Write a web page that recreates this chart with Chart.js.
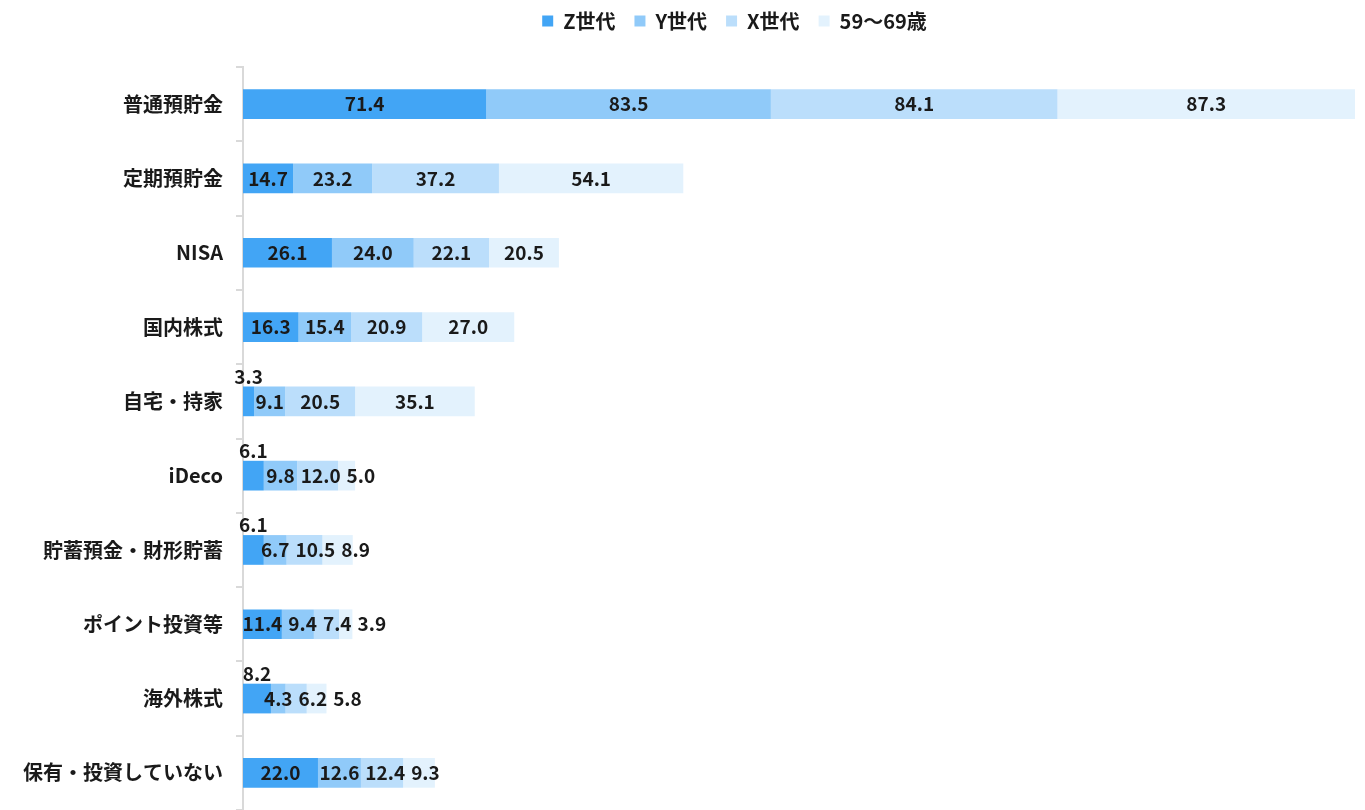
<!DOCTYPE html>
<html lang="ja">
<head>
<meta charset="UTF-8">
<title>保有・投資している金融資産</title>
<script src="https://cdn.jsdelivr.net/npm/chart.js@4.4.0/dist/chart.umd.min.js"></script>
<style>
  html, body { margin: 0; padding: 0; background: #fff; }
  .wrap { width: 1365px; height: 810px; position: relative; }
</style>
</head>
<body>
<div class="wrap"><canvas id="chart"></canvas></div>
<script>
// categories and series values (%)
const categories = ['普通預貯金', '定期預貯金', 'NISA', '国内株式', '自宅・持家', 'iDeco',
  '貯蓄預金・財形貯蓄', 'ポイント投資等', '海外株式', '保有・投資していない'];
const seriesNames = ['Z世代', 'Y世代', 'X世代', '59～69歳'];
const genZ   = [71.4, 14.7, 26.1, 16.3, 3.3, 6.1, 6.1, 11.4, 8.2, 22.0];
const genY   = [83.5, 23.2, 24.0, 15.4, 9.1, 9.8, 6.7, 9.4, 4.3, 12.6];
const genX   = [84.1, 37.2, 22.1, 20.9, 20.5, 12.0, 10.5, 7.4, 6.2, 12.4];
const senior = [87.3, 54.1, 20.5, 27.0, 35.1, 5.0, 8.9, 3.9, 5.8, 9.3];

const colors = ['#42a5f5', '#90caf9', '#bbdefb', '#e3f2fd'];
const FONT = '"Noto Sans CJK JP", "Noto Sans", sans-serif';

const allSeries = [genZ, genY, genX, senior];
const totals = categories.map((c, i) => allSeries.reduce((s, arr) => s + arr[i], 0));
const xMax = Math.max(...totals);

// value labels: centred in each segment, pushed right if they collide,
// first-series labels on very thin segments go above the bar
const valueLabels = {
  id: 'valueLabels',
  afterDatasetsDraw(chart) {
    const ctx = chart.ctx;
    ctx.save();
    ctx.font = 'bold 19px ' + FONT;
    ctx.fillStyle = '#1a1a1a';
    ctx.textAlign = 'center';
    ctx.textBaseline = 'middle';
    categories.forEach((cat, i) => {
      let prevRight = -Infinity;
      chart.data.datasets.forEach((ds, d) => {
        const bar = chart.getDatasetMeta(d).data[i];
        const txt = ds.data[i].toFixed(1);
        const w = ctx.measureText(txt).width;
        const left = Math.min(bar.base, bar.x);
        const segW = Math.abs(bar.x - bar.base);
        let cx = left + segW / 2;
        let cy = bar.y;
        if (d === 0 && segW < 32) {
          cy = bar.y - bar.height / 2 - 10;
          ctx.fillText(txt, cx, cy);
          return;
        }
        if (cx - w / 2 < prevRight + 6) cx = prevRight + 6 + w / 2;
        ctx.fillText(txt, cx, cy);
        prevRight = cx + w / 2;
      });
    });
    ctx.restore();
  }
};

// extra space under the legend, and nudge it a bit to the right
const legendTweak = {
  id: 'legendTweak',
  beforeInit(chart) {
    const fit = chart.legend.fit;
    chart.legend.fit = function () {
      fit.bind(chart.legend)();
      this.height += 26;
    };
  },
  afterLayout(chart) {
    chart.legend.left += 104;
  }
};

new Chart(document.getElementById('chart'), {
  type: 'bar',
  data: {
    labels: categories,
    datasets: seriesNames.map((name, k) => ({
      label: name,
      data: allSeries[k],
      backgroundColor: colors[k],
      borderWidth: 0,
      barPercentage: 0.8,
      categoryPercentage: 0.5
    }))
  },
  options: {
    indexAxis: 'y',
    responsive: true,
    maintainAspectRatio: false,
    animation: false,
    layout: { padding: { top: -8, right: 10, bottom: -4, left: 10 } },
    plugins: {
      legend: {
        position: 'top',
        labels: {
          boxWidth: 11,
          boxHeight: 11,
          padding: 19,
          color: '#1a1a1a',
          font: { family: FONT, size: 20, weight: 'bold' }
        }
      },
      tooltip: { enabled: false }
    },
    scales: {
      x: {
        stacked: true,
        display: false,
        min: 0,
        max: xMax
      },
      y: {
        stacked: true,
        afterFit(scale) {
          scale.paddingTop = 0;
          scale.paddingBottom = 0;
        },
        border: { display: true, color: '#d9d9d9', width: 2 },
        grid: {
          display: true,
          drawOnChartArea: false,
          drawTicks: true,
          tickLength: 7,
          color: '#d9d9d9',
          lineWidth: 2
        },
        ticks: {
          color: '#1a1a1a',
          padding: 13,
          font: { family: FONT, size: 20, weight: 'bold' }
        }
      }
    }
  },
  plugins: [valueLabels, legendTweak]
});
</script>
</body>
</html>
